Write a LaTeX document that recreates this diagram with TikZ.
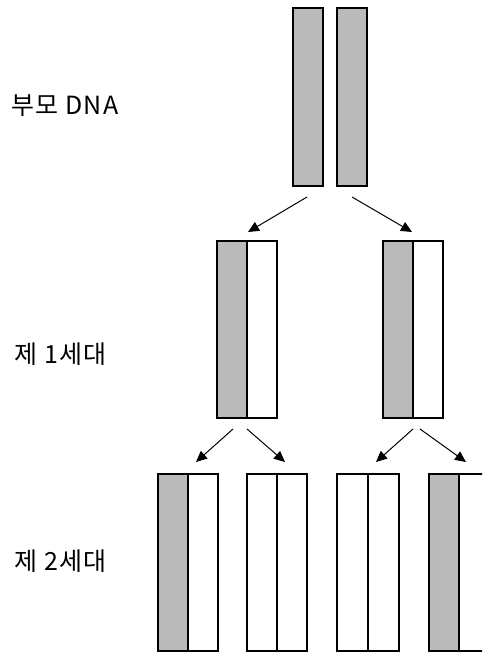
\documentclass[tikz,border=0pt]{standalone}
\usepackage{fontspec}
\setmainfont{Noto Sans CJK KR}[LetterSpace=5]
\usetikzlibrary{arrows.meta}
\begin{document}
\begin{tikzpicture}[x=1pt,y=-1pt,
  strand/.style={draw, line width=1.2pt, inner sep=0pt, outer sep=0pt, anchor=north west, minimum width=30pt},
  old/.style={strand, fill=black!27},
  new/.style={strand, fill=white},
  arr/.style={line width=1pt, -{Triangle[length=11pt,width=10pt]}},
  lbl/.style={font=\fontsize{25pt}{29pt}\selectfont, anchor=west, inner sep=0pt}]
\useasboundingbox (0,0) rectangle (482,652);
\clip (0,0) rectangle (482,652);
\fill[white] (0,0) rectangle (482,652);
% labels
\node[lbl] (l0) at (11,106) {부모 DNA};
\node[lbl] (l1) at (14,354) {제 1세대};
\node[lbl] (l2) at (14,561) {제 2세대};
% parent
\node[old, minimum height=178pt] (p1) at (293,8) {};
\node[old, minimum height=178pt] (p2) at (337,8) {};
% generation 1
\node[old, minimum height=177pt] (g1a) at (217,241) {};
\node[new, minimum height=177pt] (g1b) at (247,241) {};
\node[old, minimum height=177pt] (g1c) at (383,241) {};
\node[new, minimum height=177pt] (g1d) at (413,241) {};
% generation 2
\node[old, minimum height=177pt] (g2a) at (158,474) {};
\node[new, minimum height=177pt] (g2b) at (188,474) {};
\node[new, minimum height=177pt] (g2c) at (247,474) {};
\node[new, minimum height=177pt] (g2d) at (277,474) {};
\node[new, minimum height=177pt, minimum width=31pt] (g2e) at (337,474) {};
\node[new, minimum height=177pt, minimum width=31pt] (g2f) at (368,474) {};
\node[old, minimum height=177pt] (g2g) at (429,474) {};
\node[new, minimum height=177pt] (g2h) at (459,474) {};
% arrow coordinates
\coordinate (a1s) at (307,197); \coordinate (a1e) at (248,232);
\coordinate (a2s) at (352,197); \coordinate (a2e) at (412,232);
\coordinate (b1s) at (233,429); \coordinate (b1e) at (196,462);
\coordinate (b2s) at (247,429); \coordinate (b2e) at (285,462);
\coordinate (b3s) at (413,429); \coordinate (b3e) at (376,462);
\coordinate (b4s) at (420,429); \coordinate (b4e) at (466,462);
\draw[arr] (a1s) -- (a1e);
\draw[arr] (a2s) -- (a2e);
\draw[arr] (b1s) -- (b1e);
\draw[arr] (b2s) -- (b2e);
\draw[arr] (b3s) -- (b3e);
\draw[arr] (b4s) -- (b4e);
\end{tikzpicture}
\end{document}
